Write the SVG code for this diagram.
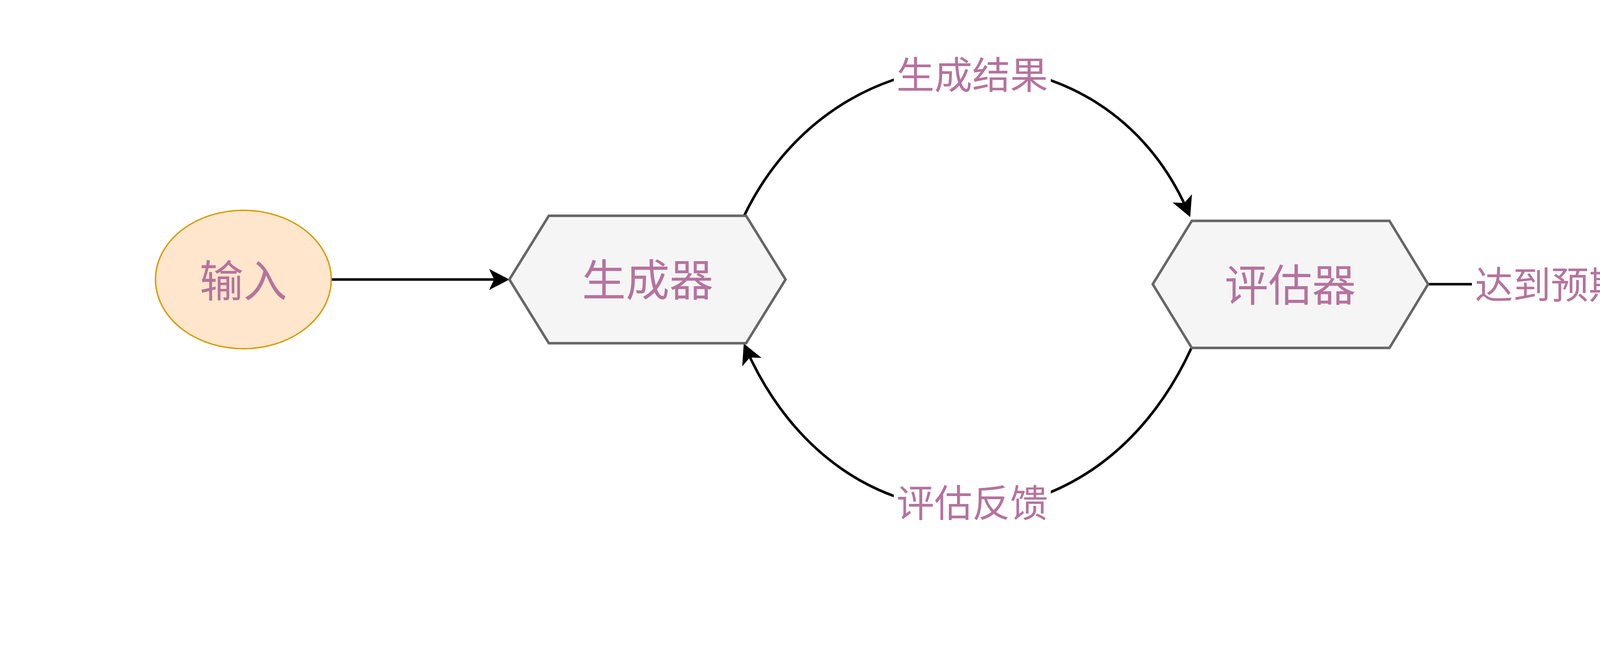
<svg xmlns="http://www.w3.org/2000/svg" width="5205" height="1650" viewBox="0 0 5205 1650">
  <style>
    .term { fill: #ffe6cc; stroke: #d79b00; stroke-width: 3.5; }
    .hex { fill: #f5f5f5; stroke: #666666; stroke-width: 6.5; stroke-linejoin: miter; }
    .lbl { font-family: "Noto Sans CJK SC", "Noto Sans CJK TC", sans-serif; fill: #B5739D; text-anchor: middle; dominant-baseline: central; }
    .node-text { font-size: 112px; }
    .edge-text { font-size: 97px; }
    .edge { fill: none; stroke: #000000; stroke-width: 6.6; marker-end: url(#arrow); }
    .lblbg { fill: #ffffff; }
    .wm { font-family: "Liberation Sans", "Noto Sans CJK SC", sans-serif; font-size: 92px; fill: #e2e2e2; text-anchor: end; }
  </style>
  <defs>
    <marker id="arrow" viewBox="-60 -32 72 64" refX="-10" refY="0" markerWidth="72" markerHeight="64" markerUnits="userSpaceOnUse" orient="auto">
      <path d="M0,0 L-52,-27 L-39,0 L-52,27 Z" fill="#000000"/>
    </marker>
  </defs>
  <rect width="5205" height="1650" fill="#ffffff"/>

  <g id="connectors">
    <path id="e-input-gen" class="edge" d="M848,715 L1294,715"/>
    <path id="e-gen-eval" class="edge" d="M1905,552 C2150,45 2830,45 3043,546"/>
    <path id="e-eval-gen" class="edge" d="M3051,888 C2800,1440 2150,1440 1908,888"/>
    <path id="e-eval-out" class="edge" d="M3656,727 L4293,727"/>
    <g id="edge-labels">
      <rect class="lblbg" x="2288" y="130" width="402" height="116"/>
      <text class="lbl edge-text" x="2489" y="184">生成结果</text>
      <rect class="lblbg" x="2288" y="1225" width="402" height="116"/>
      <text class="lbl edge-text" x="2489" y="1279">评估反馈</text>
      <rect class="lblbg" x="3768" y="669" width="404" height="116"/>
      <text class="lbl edge-text" x="3970" y="721">达到预期</text>
    </g>
  </g>

  <g id="node-input">
    <ellipse class="term" cx="623" cy="715" rx="225" ry="177"/>
    <text class="lbl node-text" x="623" y="711">输入</text>
  </g>

  <g id="node-generator">
    <polygon class="hex" points="1304,715 1405,552 1910,552 2011,715 1910,878 1405,878"/>
    <text class="lbl node-text" x="1658" y="709">生成器</text>
  </g>

  <g id="node-evaluator">
    <polygon class="hex" points="2951,727 3051,565 3557,565 3656,727 3557,890 3051,890"/>
    <text class="lbl node-text" x="3303" y="722">评估器</text>
  </g>

  <g id="node-output">
    <rect class="term" x="4303" y="577" width="600" height="300" rx="150" ry="150"/>
    <text class="lbl node-text" x="4600" y="722">输出</text>
  </g>

  <text class="wm" x="5196" y="1602">CSDN @Float浮云</text>
</svg>
